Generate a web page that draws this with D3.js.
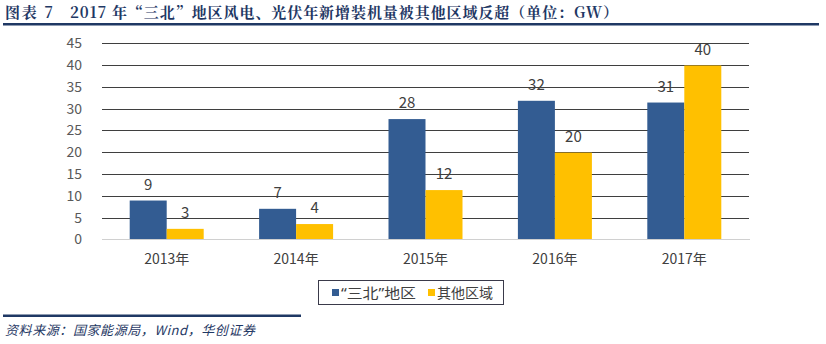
<!DOCTYPE html>
<html><head><meta charset="utf-8">
<script src="https://cdn.jsdelivr.net/npm/d3@7"></script>
<style>body{margin:0;background:#fff}</style>
</head><body>
<svg id="c" width="826" height="344"></svg>
<script>
const categories = ["2013年","2014年","2015年","2016年","2017年"];
const seriesNames = ["“三北”地区","其他区域"];
const sanbei = [8.9, 7.0, 27.6, 31.8, 31.4];
const others = [2.4, 3.5, 11.3, 19.9, 39.9];
const sanbeiLabels = ["9","7","28","32","31"];
const othersLabels = ["3","4","12","20","40"];
const yTicks = [0,5,10,15,20,25,30,35,40,45];
const titlePrefix = "图表 7";
const title = "2017 年“三北”地区风电、光伏年新增装机量被其他区域反超（单位：GW）";
const source = "资料来源：国家能源局，Wind，华创证券";

const colors = ["#335C92", "#FFC000"];
const svg = d3.select("#c");
const font = "'Microsoft YaHei','Noto Sans CJK SC','Noto Sans',sans-serif";
const serif = "'Noto Serif CJK SC','Noto Sans CJK SC',serif";

// title
svg.append("text").attr("x",5).attr("y",18).attr("fill","#1F3864")
  .attr("font-family",serif).attr("font-weight","bold")
  .attr("font-size",15).attr("textLength",48).attr("lengthAdjust","spacing").text(titlePrefix);
svg.append("text").attr("x",70).attr("y",18).attr("fill","#1F3864")
  .attr("font-family",serif).attr("font-weight","bold")
  .attr("font-size",15).attr("textLength",548).attr("lengthAdjust","spacing").text(title);
svg.append("rect").attr("x",3).attr("y",23).attr("width",816).attr("height",2.5).attr("fill","#1F3864");

const x = d3.scaleBand().domain(categories).range([102,749]).paddingInner(0).paddingOuter(0);
const y = d3.scaleLinear().domain([0,45]).range([239.3,43.3]);
const barW = 37;

// gridlines
svg.append("g").selectAll("line").data(yTicks.filter(d=>d>0)).join("line")
  .attr("x1",102).attr("x2",749).attr("y1",d=>Math.round(y(d))+0.5).attr("y2",d=>Math.round(y(d))+0.5)
  .attr("stroke","#3f3f3f").attr("stroke-width",1);

// y axis labels
const yAxis = d3.axisLeft(y).tickValues(yTicks).tickSize(0).tickPadding(0);
const gy = svg.append("g").attr("transform","translate(82,0)").call(yAxis);
gy.select(".domain").remove();
gy.selectAll("text").attr("font-family",font).attr("font-size",14).attr("fill","#595959");

// bars
const data = categories.map((c,i)=>({c, v:[sanbei[i], others[i]], l:[sanbeiLabels[i], othersLabels[i]]}));
const g = svg.append("g");
[0,1].forEach(s=>{
  g.selectAll(".b"+s).data(data).join("rect")
    .attr("x",d=>x(d.c)+x.bandwidth()/2 - barW + s*barW)
    .attr("y",d=>y(d.v[s])).attr("width",barW).attr("height",d=>y(0)-y(d.v[s]))
    .attr("fill",colors[s]);
  g.selectAll(".l"+s).data(data).join("text")
    .attr("x",d=>x(d.c)+x.bandwidth()/2 - barW/2 + s*barW)
    .attr("y",d=>y(d.v[s]) - 11).attr("text-anchor","middle")
    .attr("font-family",font).attr("font-size",15).attr("fill","#404040").text(d=>d.l[s]);
});

// baseline
svg.append("line").attr("x1",102).attr("x2",750).attr("y1",239.5).attr("y2",239.5).attr("stroke","#d0d0d0").attr("stroke-width",1);

// x axis
const xAxis = d3.axisBottom(x).tickSize(0).tickPadding(0);
const gx = svg.append("g").attr("transform","translate(0,254)").call(xAxis);
gx.select(".domain").remove();
gx.selectAll("text").attr("font-family",font).attr("font-size",14).attr("fill","#404040").attr("dy","0.71em");

// legend
const lg = svg.append("g");
lg.append("rect").attr("x",318.5).attr("y",280.5).attr("width",185).attr("height",24).attr("fill","none").attr("stroke","#3a3a4a").attr("stroke-width",1);
const legX = [332, 428];
const legW = [75, 56];
seriesNames.forEach((n,i)=>{
  lg.append("rect").attr("x",legX[i]).attr("y",289).attr("width",7).attr("height",7).attr("fill",colors[i]);
  lg.append("text").attr("x",legX[i]+9).attr("y",298).attr("font-family","'Noto Sans','Noto Sans CJK SC',sans-serif")
    .attr("font-size",14).attr("fill","#404040").attr("textLength",legW[i]).attr("lengthAdjust","spacingAndGlyphs").text(n);
});

// footer
svg.append("rect").attr("x",3).attr("y",314.5).attr("width",298).attr("height",2.5).attr("fill","#1F3864");
svg.append("text").attr("x",5).attr("y",335).attr("fill","#1F3864").attr("font-family",font)
  .attr("font-style","italic").attr("font-size",13).attr("textLength",250).attr("lengthAdjust","spacing").text(source);
</script>
</body></html>
